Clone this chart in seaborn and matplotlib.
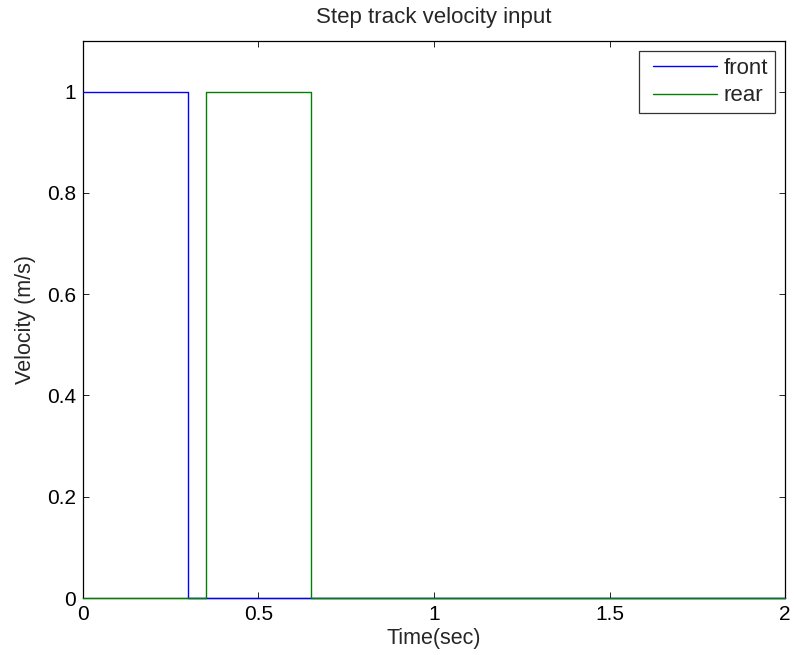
import matplotlib
matplotlib.use("Agg")
import matplotlib.pyplot as plt
from matplotlib.legend_handler import HandlerLine2D
from matplotlib.lines import Line2D
import seaborn as sns
import pandas as pd
import numpy as np

front_t = [0.0, 0.3, 2.0]
front_v = [1.0, 0.0, 0.0]
rear_t = [0.0, 0.35, 0.65, 2.0]
rear_v = [0.0, 1.0, 0.0, 0.0]
x_ticks = [0, 0.5, 1, 1.5, 2]
x_labels = ["0", "0.5", "1", "1.5", "2"]
y_ticks = [0, 0.2, 0.4, 0.6, 0.8, 1]
y_labels = ["0", "0.2", "0.4", "0.6", "0.8", "1"]

sns.set_style("ticks")
plt.rcParams["font.family"] = ["Liberation Sans", "DejaVu Sans"]
FS = 15

fig = plt.figure(figsize=(7.94, 6.55), dpi=100)
ax = fig.add_axes([0.1045, 0.087, 0.8842, 0.8504])

df_f = pd.DataFrame({"t": front_t, "v": front_v})
df_r = pd.DataFrame({"t": rear_t, "v": rear_v})
sns.lineplot(data=df_f, x="t", y="v", ax=ax, color="#0000ff", lw=1.0,
             drawstyle="steps-post", label="front", zorder=3)
sns.lineplot(data=df_r, x="t", y="v", ax=ax, color="#008000", lw=1.0,
             drawstyle="steps-post", label="rear", zorder=3)
for ln in ax.get_lines():
    ln.set_clip_on(False)

ax.set_xlim(0, 2)
ax.set_ylim(0, 1.1)
ax.set_xticks(x_ticks)
ax.set_xticklabels(x_labels)
ax.set_yticks(y_ticks)
ax.set_yticklabels(y_labels)
ax.tick_params(direction="in", length=4.5, width=0.6, labelsize=FS,
               top=True, right=True, colors="black", pad=5)
for s in ax.spines.values():
    s.set_visible(True)
    s.set_linewidth(0.9)
    s.set_color("black")
ax.set_xlabel("Time(sec)", fontsize=15.5, labelpad=3)
ax.set_ylabel("Velocity (m/s)", fontsize=15.5, labelpad=7.5)
ax.set_title("Step track velocity input", fontsize=16, pad=13)


class OffsetLineHandler(HandlerLine2D):
    def create_artists(self, legend, orig_handle, xdescent, ydescent,
                       width, height, fontsize, trans):
        arts = super().create_artists(legend, orig_handle, xdescent, ydescent,
                                      width, height, fontsize, trans)
        for a in arts:
            if isinstance(a, Line2D):
                xd = np.asarray(a.get_xdata(), dtype=float)
                if len(xd) >= 2:
                    x0, x1 = xd.min(), xd.max()
                    nx0 = x0 + 0.1 * (x1 - x0)
                    a.set_xdata(nx0 + (xd - x0) * (x1 - nx0) / (x1 - x0))
        return arts


leg = ax.legend(loc="upper right", fontsize=16, frameon=True, fancybox=False,
                edgecolor="black", borderaxespad=0.45, handlelength=3.2,
                handletextpad=0.3, borderpad=0.3, labelspacing=0.3,
                handler_map={Line2D: OffsetLineHandler()})
leg.get_frame().set_linewidth(0.9)

fig.savefig("out.png", dpi=100)
